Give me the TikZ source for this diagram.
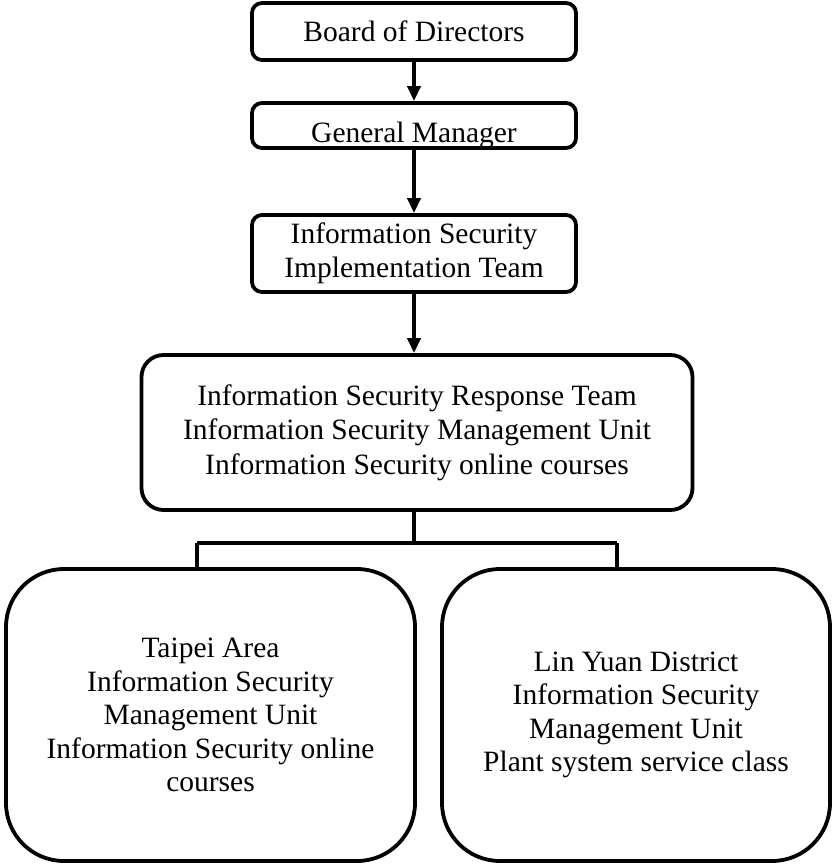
\documentclass[tikz,border=0pt]{standalone}
\usepackage{fontspec}
\setmainfont{Liberation Serif}
\usetikzlibrary{arrows.meta}
\tikzstyle{unit}=[draw, line width=3.8pt, rounded corners=10pt, align=center, font=\fontsize{29.5}{34.5}\selectfont]
\tikzstyle{site}=[unit, rounded corners=58pt, font=\fontsize{29.5}{33.5}\selectfont]
\tikzstyle{report}=[line width=3.8pt, -{Triangle[length=15pt,width=13pt]}]
\tikzstyle{branch}=[line width=3.8pt]

\begin{document}
\begin{tikzpicture}[x=1pt, y=1pt]
      \useasboundingbox (0,0) rectangle (833,-867);
      \node[unit, minimum width=324pt, minimum height=57pt] (board) at (414, -31.5) {Board of Directors};
      \node[unit, minimum width=324pt, minimum height=45pt, text height=34pt, text depth=0pt] (gm) at (414, -125.5) {General Manager};
      \node[unit, minimum width=324pt, minimum height=77pt] (impl) at (414, -253.5) {Information Security\\Implementation Team};
      \node[unit, minimum width=551pt, minimum height=155pt, rounded corners=22pt] (resp) at (417, -432.5)
        {Information Security Response Team\\Information Security Management Unit\\Information Security online courses};
      \node[site, minimum width=409pt, minimum height=292pt] (taipei) at (210.5, -715)
        {Taipei Area\\Information Security\\Management Unit\\Information Security online\\courses};
      \node[site, minimum width=388pt, minimum height=292pt] (linyuan) at (636, -715)
        {Lin Yuan District\\Information Security\\Management Unit\\Plant system service class};
      \coordinate (split) at (414, -543);
      \coordinate (left) at (197, -543);
      \coordinate (right) at (617, -543);
      \draw[report] (board) to (gm);
      \draw[report] (gm) to (impl);
      \draw[report] (impl) to (impl.south |- resp.north);
      \draw[branch] (split |- resp.south) to (split);
      \draw[branch] (left) to (right);
      \draw[branch] (left) to (left |- taipei.north);
      \draw[branch] (right) to (right |- linyuan.north);
    \end{tikzpicture}
\end{document}
